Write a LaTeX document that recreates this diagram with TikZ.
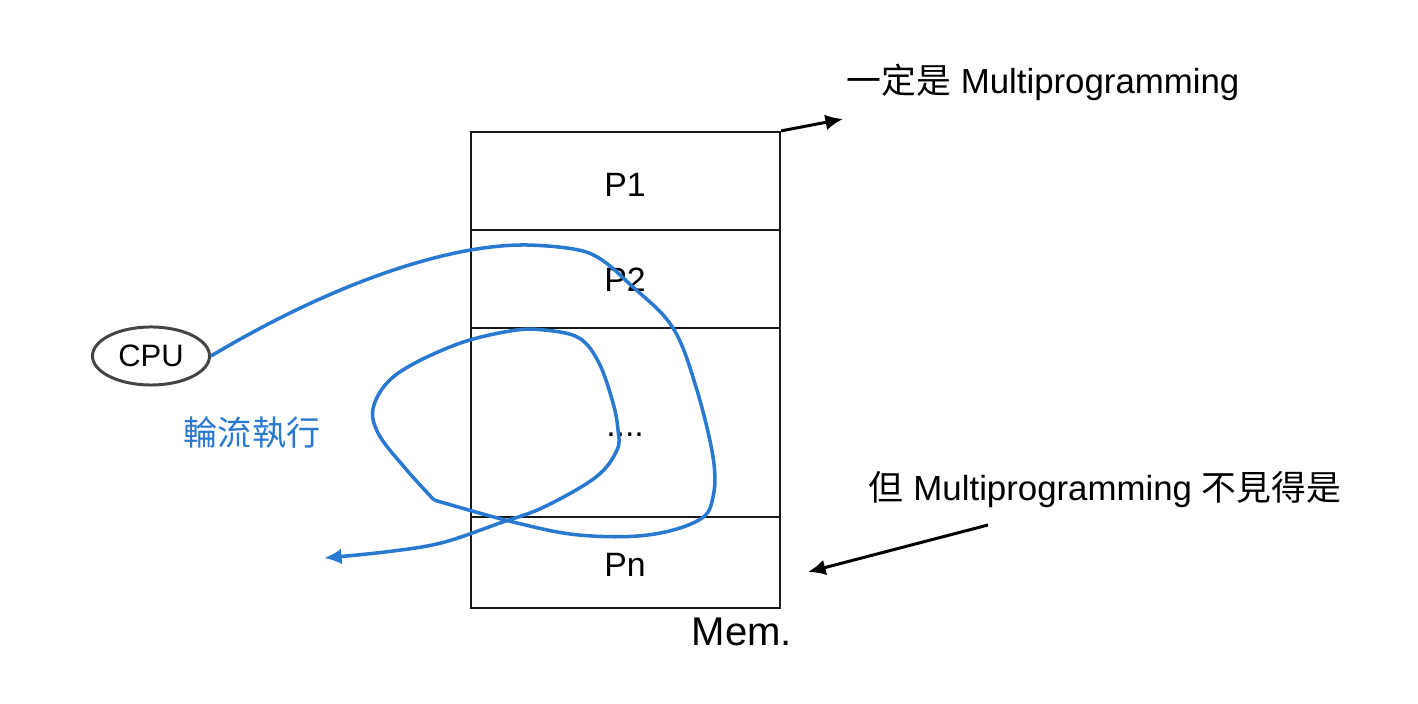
\documentclass[tikz,border=0pt]{standalone}
\usepackage{fontspec}
\setmainfont{Liberation Sans}
\newfontfamily\cjk{Noto Sans CJK TC}
\usetikzlibrary{arrows.meta,shapes.geometric}
\definecolor{flowblue}{HTML}{2A79D1}
\definecolor{rimgray}{HTML}{444444}
\begin{document}
\begin{tikzpicture}[x=0.01cm,y=-0.01cm,
  cell/.style={draw=black!90,line width=0.6pt,rectangle,inner sep=0pt,minimum width=3.09cm},
  celltext/.style={inner sep=0pt,font=\fontsize{9.6pt}{11pt}\selectfont},
  note/.style={font=\fontsize{9.9pt}{12pt}\selectfont,inner sep=0pt},
  pointer/.style={draw=black,line width=0.85pt,-{Latex[length=5pt,width=4.5pt]}},
  flow/.style={draw=flowblue,line width=1pt},
]
\useasboundingbox (0,0) rectangle (1418,704);
% memory cells
\node[cell,minimum height=0.98cm] (p1) at (625.5,181) {};
\node[cell,minimum height=0.98cm] (p2) at (625.5,279) {};
\node[cell,minimum height=1.89cm] (pd) at (625.5,422.5) {};
\node[cell,minimum height=0.91cm] (pn) at (625.5,562.5) {};
\node[celltext] (p1t) at (625,185) {P1};
\node[celltext] (p2t) at (625,280) {P2};
\node[celltext] (dots) at (625,435) {....};
\node[celltext] (pnt) at (625,565) {Pn};
\node[inner sep=0pt] (mem) at (742,632) {\fontsize{11.4pt}{13pt}\selectfont Mem.};
% CPU
\node[ellipse,draw=rimgray,line width=0.85pt,minimum width=1.17cm,minimum height=0.58cm,inner sep=0pt,font=\fontsize{8.8pt}{10pt}\selectfont] (cpu) at (151,356) {CPU};
\node[inner sep=0pt,text=flowblue] (turn) at (252,433) {\fontsize{9.7pt}{11pt}\selectfont\cjk 輪流執行};
% notes
\node[note] (top) at (1043,82) {{\cjk 一定是} Multiprogramming};
\node[note] (bot) at (1105,490) {{\cjk 但} Multiprogramming {\cjk 不見得是}};
\coordinate (topend) at (843,119);
\coordinate (botstart) at (988,525);
\coordinate (botend) at (808,572);
\draw[pointer] (p1.north east) -- (topend);
\draw[pointer] (botstart) -- (botend);
% blue round-robin curve
\coordinate (kink) at (434,500);
\coordinate (flowend) at (324,558);
\draw[flow] (cpu.east) .. controls (335,282) and (450,244) .. (527,245)
  -- plot[smooth,tension=0.6] coordinates {(527,245) (589,253) (634,288) (673,328) (696,387) (713,457) (713,497) (699,520) (648,535) (579,535) (513,522) (kink)};
\draw[flow,-{Latex[length=5pt,width=4.5pt]}] plot[smooth,tension=0.6] coordinates {(kink) (405,468) (378,433) (374,405) (397,374) (455,345) (510,331) (544,330) (579,338) (599,363) (613,403) (618,430) (617,450) (596,477) (544,507) (500,523) (441,543) (385,552) (flowend)};
\end{tikzpicture}
\end{document}
